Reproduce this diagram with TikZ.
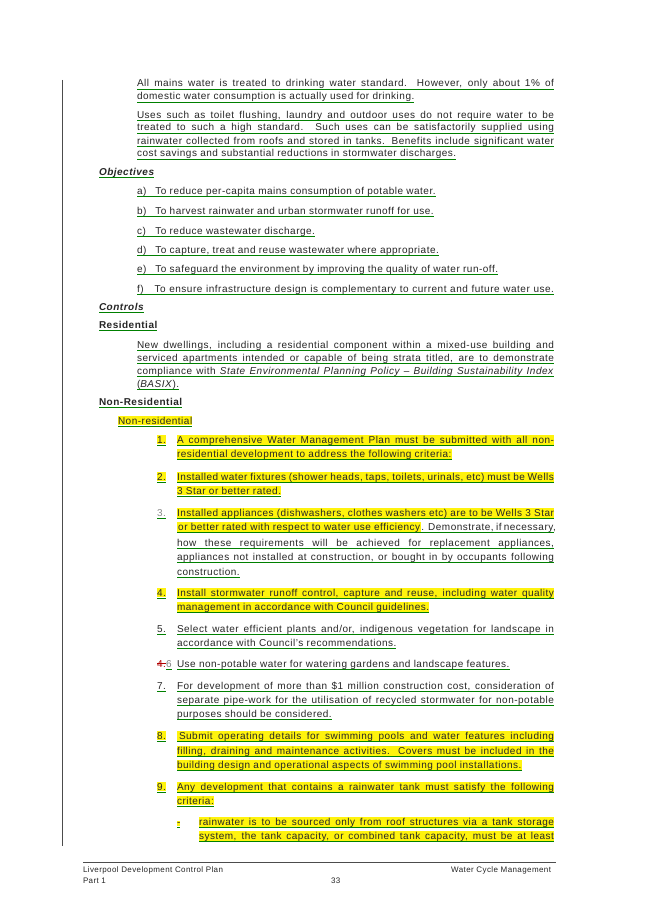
\documentclass[tikz,border=0pt]{standalone}
\usepackage{fontspec}
\setmainfont[LetterSpace=5]{Liberation Sans}
\begin{document}
\begin{tikzpicture}[x=1pt,y=-1pt,
  txt/.style={anchor=base west,inner xsep=0pt,inner ysep=1.2pt,outer sep=0pt,font=\fontsize{10}{12}\selectfont,text=black!85},
  hl/.style={fill=yellow!95!white},
  ulc/.style={draw=green!50!black,line width=0.45pt}]
\useasboundingbox (0,0) rectangle (653,923);
\fill[white] (0,0) rectangle (653,923);
\newcommand\J[6][]{\node[txt,#1] (#2) at (#3,#4) {\makebox[#5pt][s]{#6}};
  \draw[ulc] ([yshift=-1.8pt]#2.base west) -- ([yshift=-1.8pt]#2.base east);}
\newcommand\N[5][]{\node[txt,#1] (#2) at (#3,#4) {#5};
  \draw[ulc] ([yshift=-1.8pt]#2.base west) -- ([yshift=-1.8pt]#2.base east);}
\coordinate (v1) at (62,80); \coordinate (v2) at (62,846);
\draw[black!70,line width=0.5pt] (v1) -- (v2);
% intro
\J{a1}{137}{87}{417}{All mains water is treated to drinking water standard.  However, only about 1\% of}
\N{a2}{137}{100}{domestic water consumption is actually used for drinking.}
\J{b1}{137}{118}{417}{Uses such as toilet flushing, laundry and outdoor uses do not require water to be}
\J{b2}{137}{131}{417}{treated to such a high standard. Such uses can be satisfactorily supplied using}
\J{b3}{137}{144}{417}{rainwater collected from roofs and stored in tanks. Benefits include significant water}
\N{b4}{137}{157}{cost savings and substantial reductions in stormwater discharges.}
\N[font=\fontsize{10}{12}\selectfont\bfseries\itshape]{obj}{99}{175}{Objectives}
\N{oa}{137}{194}{a)\hspace{9pt}To reduce per-capita mains consumption of potable water.}
\N{ob}{137}{214}{b)\hspace{9pt}To harvest rainwater and urban stormwater runoff for use.}
\N{oc}{137}{234}{c)\hspace{9.5pt}To reduce wastewater discharge.}
\N{od}{137}{253}{d)\hspace{9pt}To capture, treat and reuse wastewater where appropriate.}
\N{oe}{137}{272}{e)\hspace{9pt}To safeguard the environment by improving the quality of water run-off.}
\J{of}{137}{292}{417}{f)\hspace{11pt}To ensure infrastructure design is complementary to current and future water use.}
\N[font=\fontsize{10}{12}\selectfont\bfseries\itshape]{ctl}{99}{310}{Controls}
\N[font=\fontsize{10}{12}\selectfont\bfseries]{res}{99}{328}{Residential}
\J{r1}{137}{348}{417}{New dwellings, including a residential component within a mixed-use building and}
\J{r2}{137}{361}{417}{serviced apartments intended or capable of being strata titled, are to demonstrate}
\J{r3}{137}{374}{417}{compliance with \textit{State Environmental Planning Policy -- Building Sustainability Index}}
\N{r4}{137}{387}{(\textit{BASIX}).}
\N[font=\fontsize{10}{12}\selectfont\bfseries]{nres}{99}{405}{Non-Residential}
\N[hl]{nr}{118}{424}{Non-residential}
% 1
\N[hl]{n1}{157}{443}{1.}
\J[hl]{i1a}{177}{443}{377}{A comprehensive Water Management Plan must be submitted with all non-}
\N[hl]{i1b}{177}{457}{residential development to address the following criteria:}
% 2
\N[hl]{n2}{157}{480}{2.}
\J[hl]{i2a}{177}{480}{377}{Installed water fixtures (shower heads, taps, toilets, urinals, etc) must be Wells}
\N[hl]{i2b}{177}{494}{3 Star or better rated.}
% 3
\N[text=black!45]{n3}{157}{516}{3.}
\J[hl]{i3a}{177}{516}{377}{Installed appliances (dishwashers, clothes washers etc) are to be Wells 3 Star}
\setlength\fboxsep{1.2pt}
\J{i3b}{177}{530}{377}{\colorbox{yellow!95!white}{or better rated with respect to water use efficiency}. Demonstrate, if necessary,}
\J{i3d}{177}{546}{377}{how these requirements will be achieved for replacement appliances,}
\J{i3e}{177}{560}{377}{appliances not installed at construction, or bought in by occupants following}
\N{i3f}{177}{575}{construction.}
% 4
\N[hl]{n4}{157}{596}{4.}
\J[hl]{i4a}{177}{596}{377}{Install stormwater runoff control, capture and reuse, including water quality}
\N[hl]{i4b}{177}{610}{management in accordance with Council guidelines.}
% 5
\N{n5}{157}{632}{5.}
\J{i5a}{177}{632}{377}{Select water efficient plants and/or, indigenous vegetation for landscape in}
\N{i5b}{177}{646}{accordance with Council's recommendations.}
% 6
\node[txt,text=red!70!black] (n6a) at (157,667) {4.};
\draw[red!70!black] (n6a.west) -- (n6a.east);
\N[text=black!50]{n6}{166}{667}{6}
\N{i6}{177}{667}{Use non-potable water for watering gardens and landscape features.}
% 7
\N{n7}{157}{689}{7.}
\J{i7a}{177}{689}{377}{For development of more than \$1 million construction cost, consideration of}
\J{i7b}{177}{703}{377}{separate pipe-work for the utilisation of recycled stormwater for non-potable}
\N{i7c}{177}{717}{purposes should be considered.}
% 8
\N[hl]{n8}{157}{739}{8.}
\J[hl]{i8a}{177}{739}{377}{\hspace{2pt}Submit operating details for swimming pools and water features including}
\J[hl]{i8b}{177}{754}{377}{filling, draining and maintenance activities. Covers must be included in the}
\N[hl]{i8c}{177}{768}{building design and operational aspects of swimming pool installations.}
% 9
\N[hl]{n9}{157}{790}{9.}
\J[hl]{i9a}{177}{790}{377}{Any development that contains a rainwater tank must  satisfy the following}
\N[hl]{i9b}{177}{804}{criteria:}
\N[hl]{d1}{177}{825}{-}
\J[hl]{j1a}{199}{825}{355}{rainwater is to be sourced only from roof structures via a tank storage}
\J[hl]{j1b}{199}{839}{355}{system, the tank capacity, or combined tank capacity, must be at least}
% footer
\coordinate (f1) at (83,862); \coordinate (f2) at (556,862);
\draw[black!70,line width=0.5pt] (f1) -- (f2);
\node[txt,font=\fontsize{8}{9}\selectfont] (ft1) at (83,872) {Liverpool Development Control Plan};
\node[txt,font=\fontsize{8}{9}\selectfont] (ft2) at (83,883) {Part 1};
\node[txt,font=\fontsize{8}{9}\selectfont] (ft3) at (331,883) {33};
\node[txt,font=\fontsize{8}{9}\selectfont,anchor=base east] (ft4) at (551,872) {Water Cycle Management};
\end{tikzpicture}
\end{document}
